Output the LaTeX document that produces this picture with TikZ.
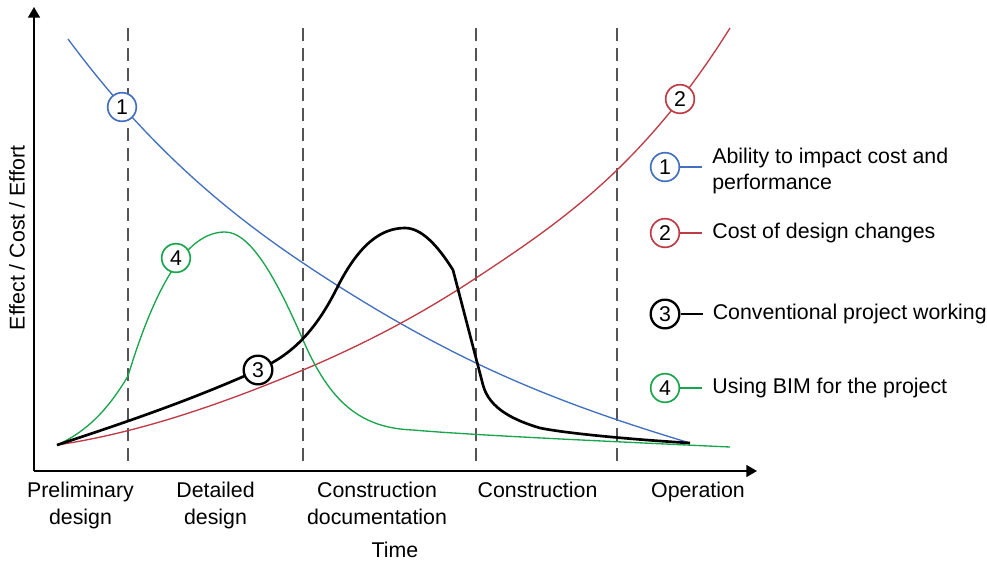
\documentclass[tikz,border=0pt]{standalone}
\usepackage{fontspec}
\setmainfont{Liberation Sans}
\usetikzlibrary{arrows.meta}
\usetikzlibrary{positioning}

\definecolor{impactblue}{RGB}{66,112,190}
\definecolor{costred}{RGB}{190,58,68}
\definecolor{bimgreen}{RGB}{24,165,76}
\definecolor{phasegray}{RGB}{85,85,85}

\begin{document}
\begin{tikzpicture}[x=0.75pt,y=0.75pt,yscale=-1,xscale=1,
  lbl/.style={inner sep=0pt,font=\fontsize{16}{20}\selectfont},
  curvemark/.style={circle,draw,fill=white,line width=1.25pt,minimum size=21.5pt,inner sep=0pt,font=\fontsize{16}{20}\selectfont},
  phaseline/.style={color=phasegray,line width=0.9pt,dash pattern=on 10pt off 5pt},
  axisline/.style={line width=1.1pt,-{Triangle[length=8pt,width=9pt]}}]
\useasboundingbox (0,0) rectangle (987,561);

%Axes
\coordinate (o) at (34,471);
\coordinate (ytop) at (34,7);
\coordinate (xend) at (757,471);
\draw [axisline] (o) -- (ytop) ;
\draw [axisline] (o) -- (xend) ;

%Straight Lines: phase borders
\draw [phaseline] (128,28) -- (128,463) ;
\draw [phaseline] (303,28) -- (303,463) ;
\draw [phaseline] (476,28) -- (476,463) ;
\draw [phaseline] (617,28) -- (617,463) ;

%Curve Lines: ability to impact cost
\draw [impactblue, line width=1pt] (68,39) .. controls (146.3,144.7) and (224.7,210.5) .. (303,263) .. controls (360.7,301.7) and (418.3,335.3) .. (476,363) .. controls (547.3,397.2) and (618.7,421.6) .. (690,443) ;
%Curve Lines: cost of design changes
\draw [costred, line width=1pt] (57,445) .. controls (139,432.7) and (221,404.4) .. (303,370) .. controls (360.7,345.8) and (418.3,316.1) .. (476,278) .. controls (523,247) and (570,215.6) .. (617,170) .. controls (654.7,133.4) and (692.3,88.3) .. (730,28) ;
%Curve Lines: using BIM
\draw [bimgreen, line width=1pt] (57,445) .. controls (80.7,434.3) and (104.3,416.3) .. (128,376) .. controls (160.3,269.4) and (192.7,232) .. (225,232) .. controls (251,232) and (277,280.2) .. (303,340) .. controls (330,402) and (360,428) .. (413,430) .. controls (470,435) and (600,441) .. (730,447) ;
%Curve Lines: conventional working
\draw [line width=2pt, line join=round] (57,445) .. controls (124,422.9) and (191,400.2) .. (258,370) .. controls (284.3,357.6) and (310.7,340.6) .. (337,288) .. controls (359.7,242.6) and (382.3,228) .. (405,228) .. controls (421,228) and (437,244.4) .. (453,270) -- (483,385) .. controls (489.4,409.2) and (515,420.5) .. (540,428) .. controls (570,434) and (640,440) .. (690,443) ;

%Shape: Circles on the curves
\node [curvemark, draw=impactblue] (c1) at (122,107) {1};
\node [curvemark, draw=costred] (c2) at (680,99) {2};
\node [curvemark, draw=black, line width=1.75pt] (c3) at (258,370) {3};
\node [curvemark, draw=bimgreen] (c4) at (176,258) {4};

%Legend
\node [curvemark, draw=impactblue] (k1) at (665,167) {1};
\node [curvemark, draw=costred] (k2) at (665,233) {2};
\node [curvemark, draw=black, line width=1.75pt] (k3) at (665,314) {3};
\node [curvemark, draw=bimgreen] (k4) at (665,388) {4};
% Text Node
\node [lbl, align=left, inner xsep=7.5pt, anchor=west] (t1) at (702,171) {Ability to impact cost and\\performance};
% Text Node
\node [lbl, inner xsep=7.5pt, right=16.5pt of k2] (t2) {Cost of design changes};
% Text Node
\node [lbl, inner xsep=7.5pt, right=16.5pt of k3] (t3) {Conventional project working};
% Text Node
\node [lbl, inner xsep=7.5pt, right=16.5pt of k4] (t4) {Using BIM for the project};
\draw [impactblue, line width=1pt] (k1) -- (k1 -| t1.west) ;
\draw [costred, line width=1pt] (k2) -- (k2 -| t2.west) ;
\draw [line width=2pt] (k3) -- (k3 -| t3.west) ;
\draw [bimgreen, line width=1pt] (k4) -- (k4 -| t4.west) ;

% Text Node
\node [lbl, rotate=90] (effort) at (17,238) {Effect / Cost / Effort};
% Text Node
\node [lbl, align=center, anchor=north] (prelim) at (80.5,482) {Preliminary\\design};
% Text Node
\node [lbl, align=center, anchor=north] (detailed) at (215.5,482) {Detailed\\design};
% Text Node
\node [lbl, align=center, anchor=north] (docs) at (377,482) {Construction\\documentation};
% Text Node
\node [lbl, anchor=north] (constr) at (537.5,482) {Construction};
% Text Node
\node [lbl, anchor=north] (oper) at (698,482) {Operation};
% Text Node
\node [lbl, anchor=north] (time) at (395,541.5) {Time};

\end{tikzpicture}
\end{document}
